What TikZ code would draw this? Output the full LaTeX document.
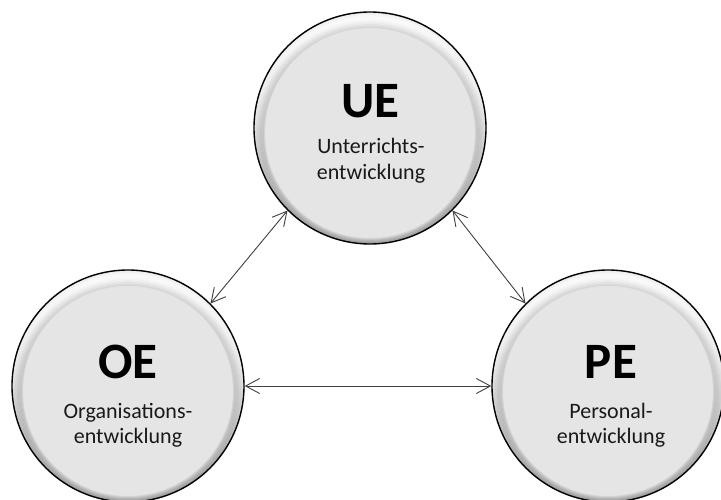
\documentclass[tikz,border=0pt]{standalone}
\usepackage{fontspec}
\setmainfont{Carlito}
\usetikzlibrary{arrows.meta,fadings}
\tikzfading[name=topfade, top color=transparent!0, middle color=transparent!100, bottom color=transparent!100]
\definecolor{ballgray}{RGB}{229,229,229}
\definecolor{arrowgray}{RGB}{64,64,64}
\begin{document}
\begin{tikzpicture}[x=1pt,y=1pt,
  ball/.style={circle, minimum size=232pt, inner sep=0pt, fill=ballgray, draw=black, line width=1.4pt,
    path picture={
      \foreach \w in {2,4,...,22}{\draw[black,opacity=0.065,line width=\w pt] ([yshift=-5pt]path picture bounding box.center) circle (116pt);}
      \foreach \w in {3,6,...,18}{\draw[white,opacity=0.45,line width=\w pt,path fading=topfade] ([yshift=-6pt]path picture bounding box.center) circle (116pt);}
    }},
  big/.style={anchor=base, font=\fontsize{51}{51}\selectfont\bfseries},
  sub/.style={anchor=base, font=\fontsize{22}{26}\selectfont, text=black!90},
  conn/.style={draw=arrowgray, line width=0.9pt, {Straight Barb[length=14pt,width=15pt]}-{Straight Barb[length=14pt,width=15pt]}}
]
\path[fill=white] (0,0) rectangle (721,499);
\useasboundingbox (0,0) rectangle (721,499);

\node[ball] (UE) at (370,371) {};
\node[ball] (OE) at (128,113) {};
\node[ball] (PE) at (608,113) {};

\node[big] (UEt) at (370.5,381) {UE};
\node[sub] (UEs1) at (371,345) {Unterrichts-};
\node[sub] (UEs2) at (371,319) {entwicklung};

\node[big] (OEt) at (128,121) {OE};
\node[sub] (OEs1) at (128,81) {Organisations-};
\node[sub] (OEs2) at (128,56) {entwicklung};

\node[big] (PEt) at (611,121) {PE};
\node[sub] (PEs1) at (611,81) {Personal-};
\node[sub] (PEs2) at (611,56) {entwicklung};

\draw[conn] (UE.225) -- (OE.45);
\draw[conn] (UE.315) -- (PE.135);
\draw[conn] (OE.0) -- (PE.180);
\end{tikzpicture}
\end{document}
